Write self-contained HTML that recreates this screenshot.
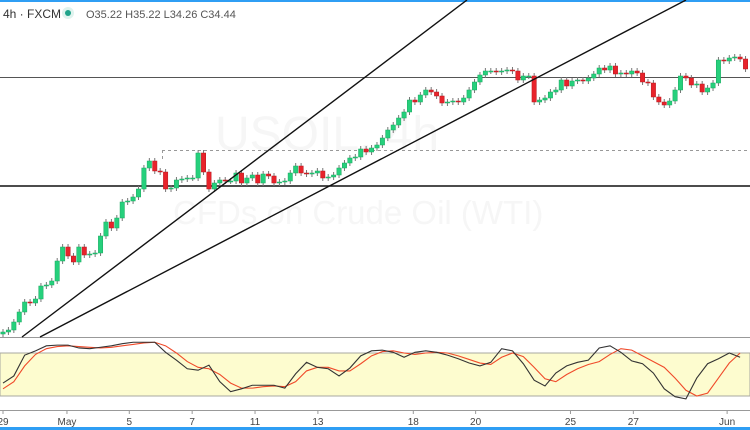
<!DOCTYPE html>
<html><head><meta charset="utf-8"><style>
body{margin:0;background:#fff;width:750px;height:430px;overflow:hidden;font-family:"Liberation Sans",sans-serif}
svg{display:block}
</style></head><body>
<svg id="c" width="750" height="430" xmlns="http://www.w3.org/2000/svg">
<rect x="0" y="0" width="750" height="2" fill="#2f9ef4"/>
<text x="215" y="150" font-size="48" fill="#f6f6f6">USOIL, 4h</text>
<text x="173" y="224" font-size="33" fill="#f6f6f6">CFDs on Crude Oil (WTI)</text>
<rect x="0" y="353" width="750" height="43" fill="#fdfccf" stroke="#a8a8a0" stroke-width="1"/>
<line x1="0" y1="337.5" x2="750" y2="337.5" stroke="#999"/>
<line x1="0" y1="410.5" x2="750" y2="410.5" stroke="#999"/>
<rect x="0" y="427" width="750" height="3" fill="#2f9ef4"/>
<g id="main"></g>
<g id="stoch"></g>
<g id="xaxis"></g>
<g>
<text x="3" y="18" font-size="12" fill="#333">4h · FXCM</text>
<circle cx="68" cy="13" r="6" fill="#dff3ee"/>
<circle cx="68" cy="13" r="3" fill="#1fa38a"/>
<text x="86" y="18" font-size="11" fill="#555">O35.22  H35.22  L34.26  C34.44</text>
</g>
</svg>
<script>
const closes=[23.92,24.0,24.32,24.72,25.12,25.08,25.24,25.76,25.8,25.96,26.76,27.32,26.96,26.72,27.32,27.0,27.04,27.08,27.76,28.32,28.08,28.48,29.12,29.16,29.32,29.64,30.48,30.76,30.36,30.32,29.64,29.68,30.0,30.04,30.08,30.08,31.08,30.32,29.64,29.88,30.0,29.96,29.96,30.28,29.88,30.08,30.2,29.88,30.24,30.16,29.88,29.92,29.96,30.28,30.56,30.28,30.24,30.28,30.36,30.08,30.12,30.2,30.48,30.68,30.88,30.92,31.24,31.12,31.28,31.4,31.68,32.0,32.2,32.48,32.72,33.2,33.12,33.4,33.6,33.52,33.36,33.08,33.12,33.16,33.12,33.28,33.6,33.92,34.2,34.36,34.36,34.32,34.36,34.4,34.36,34.0,34.16,34.16,33.12,33.2,33.28,33.52,33.6,34.0,33.76,33.96,34.0,33.96,34.08,34.24,34.48,34.4,34.56,34.24,34.28,34.24,34.36,34.28,33.92,33.88,33.32,33.12,33.0,33.16,33.6,34.16,34.08,33.8,33.84,33.52,33.68,33.88,34.8,34.76,34.88,34.92,34.84,34.44];
const stochK=[38,48,77,83,90,91,91,87,86,88,90,93,95,95,95,81,70,58,56,63,40,26,30,35,35,35,31,51,67,60,58,48,59,76,83,84,81,74,81,83,81,77,72,66,62,67,86,83,65,42,34,52,62,67,70,87,90,81,69,65,52,30,19,16,45,65,72,80,74];
const stochD=[30,40,62,78,86,89,90,89,88,87,88,90,92,94,95,90,80,68,60,58,50,38,31,31,33,34,33,40,55,60,60,55,55,65,76,82,83,80,78,80,81,80,76,71,66,64,74,80,75,60,44,40,50,58,64,68,78,86,84,76,68,60,45,28,20,24,45,66,80];
const xLabels=["29","May","5","7","11","13","18","20","25","27","Jun"];
const xLabelIdx=[0,11.8,23.3,34.9,46.5,58.1,75.7,87.2,104.7,116.3,133.6];
const levels=[34.12,29.76];
const dashedLevel=31.2;

const NS="http://www.w3.org/2000/svg";
const X=i=>3+5.42*i;
const Y=p=>(37.2-p)/0.04;
const SY=v=>396-(v-20)*43/60;
function mk(t,a,parent){const e=document.createElementNS(NS,t);for(const k in a)e.setAttribute(k,a[k]);parent.appendChild(e);return e;}
const main=document.getElementById('main'),st=document.getElementById('stoch'),xa=document.getElementById('xaxis');

let l=mk('line',{x1:0,x2:750,y1:Y(levels[0])+.5,y2:Y(levels[0])+.5,stroke:'#555','stroke-width':1},main);


l=mk('line',{x1:0,x2:750,y1:Y(levels[1]),y2:Y(levels[1]),stroke:'#111','stroke-width':1.6},main);


l=mk('line',{x1:162,x2:750,y1:Y(dashedLevel)+.5,y2:Y(dashedLevel)+.5,stroke:'#999','stroke-dasharray':'3,3'},main);


l=mk('line',{x1:162.5,x2:162.5,y1:Y(dashedLevel),y2:Y(30.76),stroke:'#999','stroke-dasharray':'3,3'},main);



closes.forEach((c,i)=>{
  const o=i?closes[i-1]:c-0.08;
  const up=c>=o, col=up?'#26d07c':'#e8232b';
  const hi=Math.max(o,c)+0.12, lo=Math.min(o,c)-0.12;
  const g=mk('g',{},main);
  
  
  mk('line',{x1:X(i),x2:X(i),y1:Y(hi),y2:Y(lo),stroke:'#777','stroke-width':1},g);
  const top=Y(Math.max(o,c)),h=Math.max(1,Math.abs(Y(o)-Y(c)));
  mk('rect',{x:X(i)-2.2,y:top,width:4.4,height:h,fill:col,stroke:up?'#1aa860':'#b51a20','stroke-width':0.5},g);
});

l=mk('line',{x1:22,y1:337,x2:467,y2:0,stroke:'#111','stroke-width':1.4},main);


l=mk('line',{x1:40,y1:337,x2:686,y2:0,stroke:'#111','stroke-width':1.4},main);



function pl(arr,color,name){
  const p=mk('polyline',{points:arr.map((v,k)=>X(2*k)+','+SY(v)).join(' '),fill:'none',stroke:color,'stroke-width':1.1},st);
  
  
}
pl(stochD,'#f04a2a','stoch-d-line');
pl(stochK,'#333','stoch-k-line');

xLabels.forEach((t,k)=>{
  const x=X(xLabelIdx[k]);
  const tk=mk('line',{x1:x,x2:x,y1:410,y2:414,stroke:'#999'},xa);
  
  
  const tx=mk('text',{x:x,y:425,'font-size':10,fill:'#444','text-anchor':'middle'},xa);
  tx.textContent=t;
  
  
});
</script>
</body></html>
